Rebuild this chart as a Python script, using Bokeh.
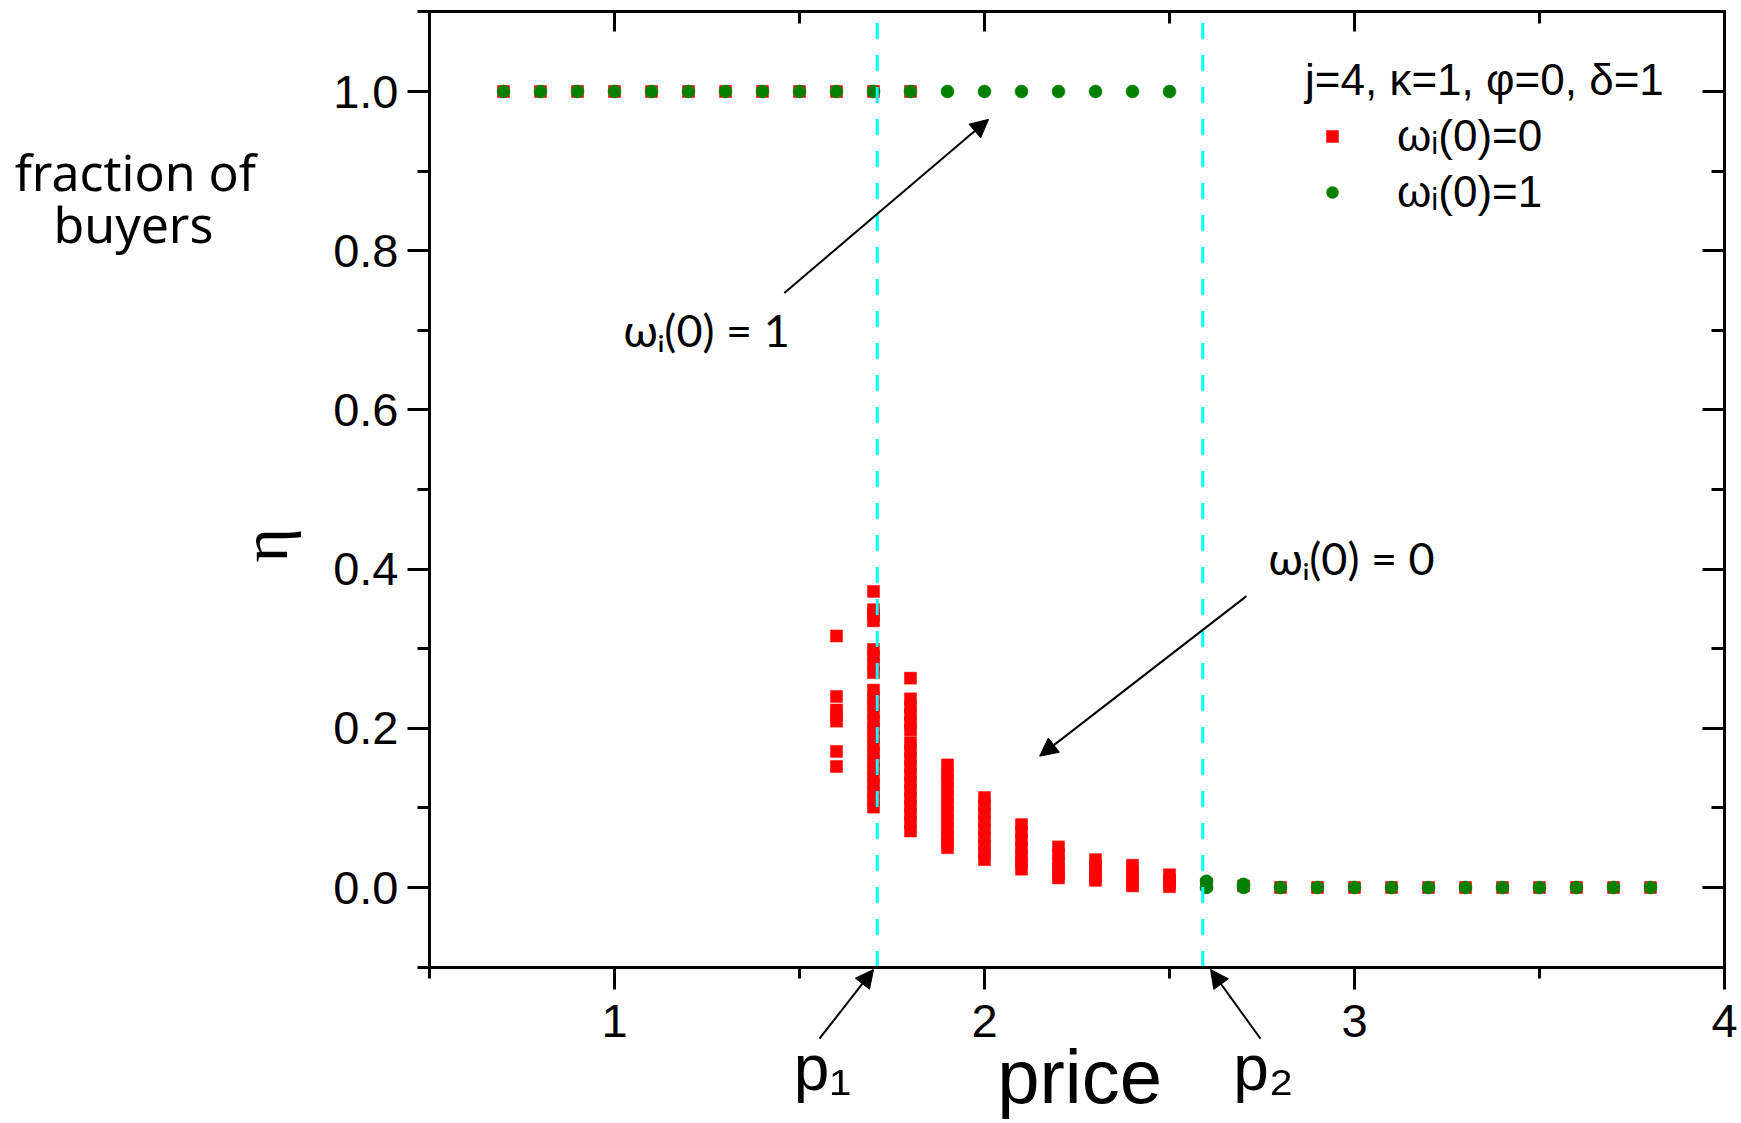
import numpy as np
from bokeh.plotting import figure
from bokeh.models import (Range1d, LinearAxis, FixedTicker, PrintfTickFormatter, Label,
                          Arrow, NormalHead, Legend, LegendItem, ColumnDataSource)
from bokeh.embed import file_html
from bokeh.resources import INLINE

# ---------------- data ----------------
x_ticks = [1, 2, 3, 4]
x_minor_ticks = [0.5, 1.5, 2.5, 3.5]
y_ticks = [0.0, 0.2, 0.4, 0.6, 0.8, 1.0]
y_minor_ticks = [-0.1, 0.1, 0.3, 0.5, 0.7, 0.9, 1.1]
x_lo, x_hi = 0.5, 4.0          # plotted box
y_lo, y_hi = -0.1, 1.1

legend_title = "j=4, κ=1, φ=0, δ=1"
label_red = "ωᵢ(0)=0"
label_green = "ωᵢ(0)=1"

# omega_i(0)=0 (red squares)
red_top_price = [0.7, 0.8, 0.9, 1.0, 1.1, 1.2, 1.3, 1.4, 1.5, 1.6, 1.7, 1.8]
red_top_eta = [1.0, 1.0, 1.0, 1.0, 1.0, 1.0, 1.0, 1.0, 1.0, 1.0, 1.0, 1.0]

red_col_price = [1.6, 1.7, 1.8, 1.9, 2.0, 2.1, 2.2, 2.3, 2.4, 2.5]
red_col_eta = [
    [0.316, 0.240, 0.223, 0.216, 0.209, 0.171, 0.152],
    [0.372, 0.349, 0.342, 0.335, 0.299, 0.290, 0.280, 0.270,
     0.248, 0.238, 0.229, 0.219, 0.209, 0.199, 0.189, 0.179, 0.169, 0.159,
     0.149, 0.139, 0.129, 0.119, 0.110, 0.101],
    [0.263, 0.237, 0.227, 0.217, 0.207, 0.198,
     0.182, 0.172, 0.162, 0.152, 0.142, 0.132, 0.122, 0.112, 0.102, 0.092,
     0.082, 0.071],
    [0.154, 0.144, 0.134, 0.124, 0.114, 0.104, 0.094, 0.084, 0.074, 0.064,
     0.057, 0.050],
    [0.113, 0.103, 0.093, 0.083, 0.073, 0.063, 0.053, 0.044, 0.035],
    [0.079, 0.069, 0.059, 0.049, 0.040, 0.031, 0.023],
    [0.051, 0.042, 0.033, 0.024, 0.017, 0.012],
    [0.035, 0.027, 0.019, 0.013, 0.009],
    [0.028, 0.020, 0.012, 0.006, 0.002],
    [0.016, 0.010, 0.005, 0.001],
]

red_low_price = [2.6, 2.7, 2.8, 2.9, 3.0, 3.1, 3.2, 3.3, 3.4, 3.5, 3.6, 3.7, 3.8]
red_low_eta = [0.004, 0.002, 0.0, 0.0, 0.0, 0.0, 0.0, 0.0, 0.0, 0.0, 0.0, 0.0, 0.0]

# omega_i(0)=1 (green circles)
green_top_price = [0.7, 0.8, 0.9, 1.0, 1.1, 1.2, 1.3, 1.4, 1.5, 1.6, 1.7, 1.8,
                   1.9, 2.0, 2.1, 2.2, 2.3, 2.4, 2.5]
green_top_eta = [1.0, 1.0, 1.0, 1.0, 1.0, 1.0, 1.0, 1.0, 1.0, 1.0, 1.0, 1.0,
                 1.0, 1.0, 1.0, 1.0, 1.0, 1.0, 1.0]
green_low_price = [2.6, 2.6, 2.7, 2.7, 2.8, 2.9, 3.0, 3.1, 3.2, 3.3, 3.4, 3.5,
                   3.6, 3.7, 3.8]
green_low_eta = [0.008, 0.0, 0.004, 0.0, 0.0, 0.0, 0.0, 0.0, 0.0, 0.0, 0.0, 0.0,
                 0.0, 0.0, 0.0]

p1 = 1.71
p2 = 2.59

# ---------------- sources ----------------
red_x = list(red_top_price)
red_y = list(red_top_eta)
for xc, col in zip(red_col_price, red_col_eta):
    red_x += [xc] * len(col)
    red_y += col
red_x += red_low_price
red_y += red_low_eta
red_src = ColumnDataSource(dict(price=red_x, eta=red_y))
green_src = ColumnDataSource(dict(price=green_top_price + green_low_price,
                                  eta=green_top_eta + green_low_eta))
vline_src = ColumnDataSource(dict(x=[p1, p2], y0=[y_lo, y_lo], y1=[y_hi, y_hi]))

# ---------------- figure (frame covers the whole canvas) ----------------
W, H = 1741, 1123
BOX_L, BOX_R = 429.0, 1724.0      # pixel box of the plotted area
BOX_T, BOX_B = 11.4, 966.6
sx = (BOX_R - BOX_L) / (x_hi - x_lo)
sy = (BOX_B - BOX_T) / (y_hi - y_lo)
xr = Range1d(x_lo - BOX_L / sx, x_hi + (W - BOX_R) / sx)
yr = Range1d(y_lo - (H - BOX_B) / sy, y_hi + BOX_T / sy)

p = figure(width=W, height=H, x_range=xr, y_range=yr,
           output_backend="svg", toolbar_location=None,
           min_border=0, min_border_left=0, min_border_right=0,
           min_border_top=0, min_border_bottom=0)
p.xgrid.visible = False
p.ygrid.visible = False
p.outline_line_color = None
p.background_fill_color = "white"
p.border_fill_color = "white"

TICK_FONT = "Liberation Sans"

def base_axis(ax, line=True):
    ax.axis_line_width = 3
    ax.axis_line_color = "black" if line else None
    ax.axis_line_cap = "square"
    ax.major_tick_line_width = 3
    ax.minor_tick_line_width = 3
    ax.major_tick_line_color = "black"
    ax.minor_tick_line_color = "black"

# bottom axis (labelled, ticks outward)
bx = p.xaxis[0]
bx.fixed_location = y_lo
bx.bounds = (x_lo, x_hi)
bx.ticker = FixedTicker(ticks=x_ticks, minor_ticks=x_minor_ticks)
base_axis(bx)
bx.major_tick_in, bx.major_tick_out = 0, 22
bx.minor_tick_in, bx.minor_tick_out = 0, 11
bx.major_label_text_font = TICK_FONT
bx.major_label_text_font_size = "47px"
bx.major_label_text_color = "black"
bx.major_label_standoff = 16

# left axis (labelled, ticks outward)
ly = p.yaxis[0]
ly.fixed_location = x_lo
ly.bounds = (y_lo, y_hi)
ly.ticker = FixedTicker(ticks=y_ticks, minor_ticks=y_minor_ticks)
ly.formatter = PrintfTickFormatter(format="%.1f")
base_axis(ly)
ly.major_tick_in, ly.major_tick_out = 0, 22
ly.minor_tick_in, ly.minor_tick_out = 0, 12
ly.major_label_text_font = TICK_FONT
ly.major_label_text_font_size = "47px"
ly.major_label_text_color = "black"
ly.major_label_standoff = 9

# top and right axes: unlabelled, ticks inward (ticks given as minor ticks -> no labels)
def mirror_axis(place, loc, bounds, ticks, length, line):
    ax = LinearAxis(fixed_location=loc, bounds=bounds,
                    ticker=FixedTicker(ticks=[], minor_ticks=ticks))
    base_axis(ax, line)
    ax.major_tick_in = ax.major_tick_out = 0
    ax.minor_tick_in, ax.minor_tick_out = length, 0
    p.add_layout(ax, place)

mirror_axis("above", y_hi, (x_lo, x_hi), x_ticks, 20, True)
mirror_axis("above", y_hi, (x_lo, x_hi), x_minor_ticks, 12, False)
mirror_axis("right", x_hi, (y_lo, y_hi), y_ticks, 22, True)
mirror_axis("right", x_hi, (y_lo, y_hi), y_minor_ticks, 13, False)

# ---------------- data marks ----------------
r_red = p.scatter("price", "eta", source=red_src, marker="square", size=12,
                  fill_color="#ff0000", line_color="#ff0000", line_width=0.5)
r_green = p.scatter("price", "eta", source=green_src, marker="circle", size=13,
                    fill_color="#008000", line_color="#008000", line_width=0.5)
p.segment(x0="x", y0="y0", x1="x", y1="y1", source=vline_src,
          line_color="#00ffff", line_width=3, line_dash="16 16")

# ---------------- legend ----------------
legend = Legend(items=[LegendItem(label=label_red, renderers=[r_red]),
                       LegendItem(label=label_green, renderers=[r_green])],
                title=legend_title, location=(1305, 906),
                border_line_color=None, background_fill_alpha=0,
                label_text_font=TICK_FONT, label_text_font_size="44px",
                label_text_color="black",
                title_text_font=TICK_FONT, title_text_font_size="44px",
                title_text_font_style="normal", title_text_color="black",
                glyph_width=54, glyph_height=30, label_standoff=38,
                spacing=6, padding=0, margin=0, title_standoff=6)
p.add_layout(legend)

# ---------------- texts ----------------
ANN_FONT = "Lato"

def label(x, y, text, font, size, **kw):
    p.add_layout(Label(x=x, y=y, text=text, text_font=font, text_font_size=size,
                       text_color="black", **kw))

label(-0.295, 0.899, "fraction of", "Noto Sans", "50px", text_align="center",
      text_baseline="alphabetic")
label(-0.300, 0.833, "buyers", "Noto Sans", "50px", text_align="center",
      text_baseline="alphabetic")
label(0.054, 0.430, "η", "Liberation Serif", "66px", angle=np.pi / 2,
      text_align="center", text_baseline="middle")
label(2.257, -0.237, "price", TICK_FONT, "76px", text_align="center",
      text_baseline="alphabetic")
label(1.562, -0.227, "p₁", TICK_FONT, "64px", text_align="center",
      text_baseline="alphabetic")
label(2.754, -0.227, "p₂", TICK_FONT, "64px", text_align="center",
      text_baseline="alphabetic")
label(1.249, 0.701, "ωᵢ(0) = 1", ANN_FONT, "45px", text_align="center",
      text_baseline="alphabetic")
label(2.992, 0.414, "ωᵢ(0) = 0", ANN_FONT, "45px", text_align="center",
      text_baseline="alphabetic")

def arrow(xs, ys, xe, ye):
    p.add_layout(Arrow(x_start=xs, y_start=ys, x_end=xe, y_end=ye, line_width=2,
                       line_color="black",
                       end=NormalHead(size=18, fill_color="black", line_color="black",
                                      line_width=1)))

arrow(1.459, 0.747, 2.011, 0.965)
arrow(2.708, 0.366, 2.149, 0.165)
arrow(1.554, -0.190, 1.700, -0.103)
arrow(2.746, -0.190, 2.611, -0.103)

open("out.html", "w").write(file_html(p, INLINE))
